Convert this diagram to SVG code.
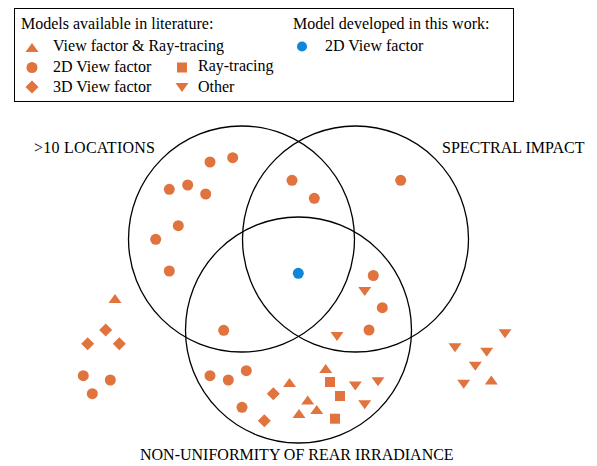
<svg xmlns="http://www.w3.org/2000/svg" width="597" height="466" viewBox="0 0 597 466" font-family="'Liberation Serif', 'Times New Roman', serif">
<style>
text{font-family:"Liberation Serif","Times New Roman",serif;fill:#000;font-size:16px}
.o{fill:#E1733E;stroke:none}
.b{fill:#0F86D8;stroke:none}
.c{fill:none;stroke:#000;stroke-width:1.3}
</style>
<defs>
<circle id="dot" r="5.5"/>
<polygon id="up" points="0,-5 6.5,4 -6.5,4"/>
<polygon id="dn" points="-6.5,-4 6.5,-4 0,5"/>
<rect id="sq" x="-5" y="-5" width="10" height="10"/>
<polygon id="dm" points="0,-6.5 6.5,0 0,6.5 -6.5,0"/>
</defs>
<rect width="597" height="466" fill="#fff"/>
<g id="legend">
<rect x="14.5" y="8.5" width="499" height="93" fill="#fff" stroke="#000" stroke-width="1"/>
<text x="21" y="29">Models available in literature:</text>
<use href="#up" class="o" x="32" y="48"/>
<text x="53" y="51">View factor &amp; Ray-tracing</text>
<use href="#dot" class="o" x="32" y="67.5"/>
<text x="53" y="72">2D View factor</text>
<use href="#dm" class="o" x="32" y="87"/>
<text x="53" y="92">3D View factor</text>
<use href="#sq" class="o" x="182" y="67.5"/>
<text x="198" y="71">Ray-tracing</text>
<use href="#dn" class="o" x="182" y="87"/>
<text x="198" y="92">Other</text>
<text x="293" y="29">Model developed in this work:</text>
<circle class="b" cx="302" cy="46.5" r="5"/>
<text x="325" y="51">2D View factor</text>
</g>
<g id="sets">
<g id="set-locations"><circle class="c" cx="241.5" cy="239" r="113"/><text x="34" y="153" textLength="121" lengthAdjust="spacing">&gt;10 LOCATIONS</text></g>
<g id="set-spectral"><circle class="c" cx="355.5" cy="239" r="113"/><text x="442" y="153">SPECTRAL IMPACT</text></g>
<g id="set-nonuniformity"><circle class="c" cx="298.5" cy="330" r="113"/><text x="140" y="460">NON-UNIFORMITY OF REAR IRRADIANCE</text></g>
</g>
<g id="points">
<use href="#dot" class="o" x="210" y="162"/>
<use href="#dot" class="o" x="232.7" y="157.7"/>
<use href="#dot" class="o" x="169.3" y="189.3"/>
<use href="#dot" class="o" x="187.7" y="185"/>
<use href="#dot" class="o" x="205.7" y="194"/>
<use href="#dot" class="o" x="178.3" y="225.7"/>
<use href="#dot" class="o" x="155.7" y="239.3"/>
<use href="#dot" class="o" x="169.3" y="271"/>
<use href="#dot" class="o" x="292" y="180.3"/>
<use href="#dot" class="o" x="314.3" y="198.3"/>
<use href="#dot" class="o" x="400.7" y="180.3"/>
<circle class="b" cx="298.3" cy="273.3" r="5.5"/>
<use href="#dot" class="o" x="373.3" y="275.5"/>
<use href="#dn" class="o" x="364.7" y="291"/>
<use href="#dot" class="o" x="382.3" y="307.7"/>
<use href="#dot" class="o" x="369" y="330"/>
<use href="#dn" class="o" x="337" y="336"/>
<use href="#dot" class="o" x="223.7" y="330.3"/>
<use href="#up" class="o" x="115" y="299"/>
<use href="#dm" class="o" x="105.7" y="330"/>
<use href="#dm" class="o" x="87.7" y="343.7"/>
<use href="#dm" class="o" x="119.3" y="343.7"/>
<use href="#dot" class="o" x="83.3" y="375.7"/>
<use href="#dot" class="o" x="110.3" y="380"/>
<use href="#dot" class="o" x="92.3" y="393.7"/>
<use href="#dot" class="o" x="210" y="375.7"/>
<use href="#dot" class="o" x="228.3" y="380"/>
<use href="#dot" class="o" x="246.3" y="370.7"/>
<use href="#dm" class="o" x="273.3" y="393.7"/>
<use href="#dot" class="o" x="242" y="407.3"/>
<use href="#dm" class="o" x="264.3" y="420.7"/>
<use href="#up" class="o" x="289.5" y="383"/>
<use href="#up" class="o" x="325.7" y="369"/>
<use href="#sq" class="o" x="330" y="382"/>
<use href="#dn" class="o" x="355.3" y="385.5"/>
<use href="#dn" class="o" x="378" y="381.3"/>
<use href="#sq" class="o" x="340" y="396"/>
<use href="#up" class="o" x="307.7" y="400.5"/>
<use href="#up" class="o" x="316.7" y="410"/>
<use href="#up" class="o" x="299" y="414"/>
<use href="#dn" class="o" x="364.7" y="404.3"/>
<use href="#sq" class="o" x="335" y="418.7"/>
<use href="#dn" class="o" x="505" y="333.3"/>
<use href="#dn" class="o" x="455" y="347.3"/>
<use href="#dn" class="o" x="486.7" y="351.7"/>
<use href="#dn" class="o" x="475.3" y="365.7"/>
<use href="#dn" class="o" x="463.7" y="383.7"/>
<use href="#up" class="o" x="491.3" y="380.5"/>
</g>
</svg>
